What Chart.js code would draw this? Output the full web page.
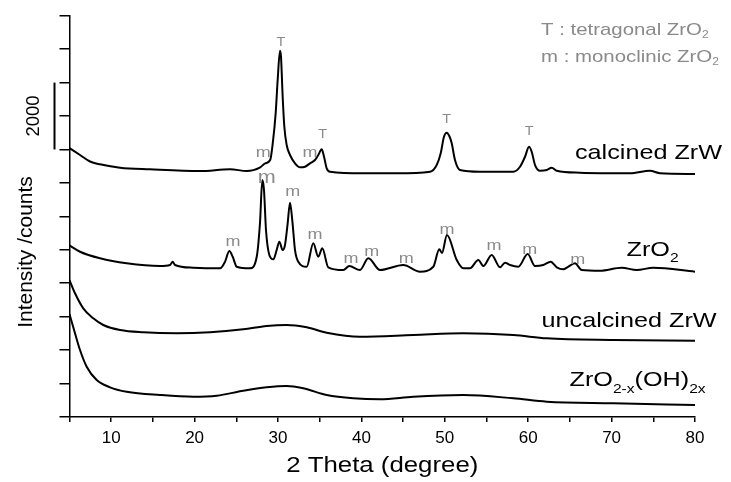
<!DOCTYPE html>
<html>
<head>
<meta charset="utf-8">
<script src="https://cdn.jsdelivr.net/npm/chart.js@4.4.1/dist/chart.umd.min.js"></script>
<style>
  html, body { margin: 0; padding: 0; background: #fff; }
  canvas { display: block; }
</style>
</head>
<body>
<canvas id="xrd" width="731" height="482"></canvas>
<script>
// XRD patterns, 2 theta (degree) vs intensity (counts, curves stacked with offsets)
const calcinedTheta = [5.0, 6.26, 7.46, 8.66, 11.06, 14.65, 20.64, 24.25, 26.25, 27.87, 28.47, 29.06, 29.37, 29.72, 29.96, 30.24, 30.36, 30.56, 30.76, 31.04, 31.44, 32.04, 32.64, 33.24, 33.84, 34.44, 34.83, 35.24, 35.52, 35.84, 36.24, 40.23, 44.23, 48.23, 49.03, 49.51, 49.9, 50.23, 50.54, 50.83, 51.22, 51.82, 54.22, 58.21, 59.02, 59.62, 60.1, 60.42, 60.82, 61.42, 62.22, 62.82, 63.42, 66.21, 72.21, 74.6, 75.81, 80.0];
const calcinedCounts = [8040, 7834, 7640, 7556, 7454, 7406, 7355, 7409, 7355, 7466, 7586, 7684, 8184, 9081, 10076, 10952, 10773, 9577, 8680, 8133, 7834, 7586, 7466, 7484, 7586, 7684, 7834, 8004, 7783, 7436, 7334, 7287, 7287, 7334, 7535, 7885, 8381, 8501, 8402, 8184, 7684, 7385, 7334, 7334, 7484, 7783, 8082, 7932, 7535, 7364, 7385, 7454, 7364, 7305, 7287, 7364, 7287, 7266];

const zro2Theta = [5.0, 6.26, 8.66, 11.86, 15.85, 17.05, 17.37, 17.65, 19.84, 23.05, 23.65, 24.16, 24.57, 25.05, 26.64, 27.45, 27.84, 28.12, 28.32, 28.56, 28.96, 29.44, 29.84, 30.16, 30.56, 30.84, 31.16, 31.44, 31.71, 32.04, 32.43, 33.44, 34.23, 34.83, 35.31, 36.03, 37.83, 38.55, 39.83, 40.83, 42.23, 45.02, 47.03, 48.62, 49.34, 49.66, 50.26, 51.43, 52.22, 53.02, 54.02, 54.62, 55.62, 56.62, 57.22, 57.82, 58.81, 59.94, 60.82, 61.81, 62.7, 63.42, 64.21, 64.69, 65.61, 66.41, 68.61, 71.21, 73.01, 75.0, 80.0];
const zro2Counts = [5130, 4942, 4745, 4596, 4515, 4545, 4643, 4545, 4464, 4446, 4643, 4963, 4793, 4494, 4446, 4793, 5801, 7086, 6787, 5591, 4844, 4715, 4993, 5241, 4993, 5143, 5792, 6408, 5890, 4993, 4643, 4494, 5194, 4793, 5044, 4476, 4395, 4515, 4395, 4745, 4395, 4545, 4345, 4494, 5014, 4904, 5442, 4694, 4446, 4446, 4694, 4515, 4844, 4476, 4614, 4545, 4494, 4874, 4515, 4545, 4643, 4476, 4416, 4476, 4596, 4395, 4374, 4464, 4395, 4464, 4344];

const uncalcinedTheta = [5.0, 5.66, 6.65, 7.85, 9.05, 11.06, 13.85, 17.85, 21.85, 25.84, 28.64, 31.04, 33.44, 35.84, 39.83, 46.22, 52.22, 58.21, 62.22, 70.2, 80.0];
const uncalcinedCounts = [4096, 3699, 3250, 2951, 2751, 2601, 2533, 2503, 2533, 2622, 2721, 2751, 2682, 2521, 2401, 2452, 2503, 2452, 2353, 2302, 2281];

const hydroxideTheta = [5.0, 5.66, 6.26, 7.06, 8.26, 9.86, 11.86, 15.85, 19.84, 22.65, 25.84, 28.64, 31.04, 33.03, 35.84, 39.03, 42.23, 46.22, 52.22, 58.21, 62.22, 70.2, 80.0];
const hydroxideCounts = [3080, 2503, 2003, 1504, 1106, 888, 756, 658, 607, 637, 786, 888, 927, 858, 658, 559, 529, 607, 658, 559, 457, 410, 359];

// peak markers (centre of the letter, in data units)
const tPeakTheta = [30.36, 35.36, 50.23, 60.1];
const tPeakCounts = [11212, 8477, 8910, 8566];
const mPeakTheta = [28.24, 33.84, 24.6, 31.76, 34.44, 38.75, 41.23, 45.38, 50.26, 55.9, 60.18, 65.95];
const mPeakCounts = [7909, 7909, 5247, 6736, 5442, 4730, 4934, 4730, 5600, 5113, 4999, 4694];
const mStrongTheta = [28.65];
const mStrongCounts = [7146];

// scale bar on the left: 2000 counts
const scaleBarFrom = 8000;
const scaleBarTo = 10000;

const FONT = '"Liberation Sans", Arial, Helvetica, sans-serif';
const SX = 1.2; // text in the original is a bit wide
const GREY = '#8a8a8a';

function toPoints(xs, ys) {
    return xs.map((x, i) => ({ x: x, y: ys[i] }));
}

// parts: [text, size, dy]
function wideText(ctx, parts, x, y, align, color) {
    ctx.save();
    let total = 0;
    const widths = parts.map(p => {
        ctx.font = p[1] + 'px ' + FONT;
        const w = ctx.measureText(p[0]).width;
        total += w;
        return w;
    });
    let cx = align === 'center' ? -total / 2 : (align === 'right' ? -total : 0);
    ctx.translate(x, y);
    ctx.scale(SX, 1);
    ctx.fillStyle = color || '#000';
    ctx.textAlign = 'left';
    ctx.textBaseline = 'alphabetic';
    parts.forEach((p, i) => {
        ctx.font = p[1] + 'px ' + FONT;
        ctx.fillText(p[0], cx, p[2] || 0);
        cx += widths[i];
    });
    ctx.restore();
}

function rotatedText(ctx, text, x, y, size) {
    ctx.save();
    ctx.translate(x, y);
    ctx.rotate(-Math.PI / 2);
    ctx.font = size + 'px ' + FONT;
    ctx.fillStyle = '#000';
    ctx.textAlign = 'center';
    ctx.textBaseline = 'alphabetic';
    ctx.fillText(text, 0, 0);
    ctx.restore();
}

const annotations = {
    id: 'annotations',
    afterDraw(chart) {
        const ctx = chart.ctx;
        const xs = chart.scales.x;
        const ys = chart.scales.y;

        // scale bar + 2000
        ctx.save();
        ctx.strokeStyle = '#000';
        ctx.lineWidth = 2;
        ctx.beginPath();
        ctx.moveTo(54.5, ys.getPixelForValue(scaleBarFrom));
        ctx.lineTo(54.5, ys.getPixelForValue(scaleBarTo));
        ctx.stroke();
        ctx.restore();
        rotatedText(ctx, '2000', 38.5, (ys.getPixelForValue(scaleBarFrom) + ys.getPixelForValue(scaleBarTo)) / 2, 18.5);

        // axis titles
        rotatedText(ctx, 'Intensity /counts', 31.5, 252, 21);
        wideText(ctx, [['2 Theta (degree)', 21.5]], (chart.chartArea.left + chart.chartArea.right) / 2, 471.5, 'center');

        // curve labels
        wideText(ctx, [['calcined ZrW', 21]], 575, 158.5, 'left');
        wideText(ctx, [['ZrO', 21], ['2', 13, 6]], 626.5, 255.5, 'left');
        wideText(ctx, [['uncalcined ZrW', 21]], 541.5, 326.5, 'left');
        wideText(ctx, [['ZrO', 21], ['2-x', 13, 7], ['(OH)', 21], ['2x', 13, 7]], 569.5, 386, 'left');

        // phase key
        wideText(ctx, [['T : tetragonal ZrO', 17], ['2', 10, 3]], 541, 35, 'left', GREY);
        wideText(ctx, [['m : monoclinic ZrO', 17], ['2', 10, 3]], 541, 62, 'left', GREY);

        // peak markers
        tPeakTheta.forEach((t, i) => {
            wideText(ctx, [['T', 12]], xs.getPixelForValue(t), ys.getPixelForValue(tPeakCounts[i]) + 4.3, 'center', GREY);
        });
        mPeakTheta.forEach((t, i) => {
            wideText(ctx, [['m', 15]], xs.getPixelForValue(t), ys.getPixelForValue(mPeakCounts[i]) + 4, 'center', GREY);
        });
        mStrongTheta.forEach((t, i) => {
            wideText(ctx, [['m', 18]], xs.getPixelForValue(t), ys.getPixelForValue(mStrongCounts[i]) + 4.8, 'center', GREY);
        });
    }
};

function curve(xs, ys) {
    return {
        data: toPoints(xs, ys),
        borderColor: '#000',
        borderWidth: 2,
        pointRadius: 0,
        cubicInterpolationMode: 'monotone',
        fill: false
    };
}

new Chart(document.getElementById('xrd'), {
    type: 'line',
    data: {
        datasets: [
            curve(calcinedTheta, calcinedCounts),
            curve(zro2Theta, zro2Counts),
            curve(uncalcinedTheta, uncalcinedCounts),
            curve(hydroxideTheta, hydroxideCounts)
        ]
    },
    options: {
        responsive: false,
        animation: false,
        layout: { padding: { left: 59.5, top: 15.7, right: 36, bottom: 0 } },
        plugins: {
            legend: { display: false },
            tooltip: { enabled: false }
        },
        scales: {
            x: {
                type: 'linear',
                min: 5,
                max: 80,
                afterFit: s => { s.height = 65; },
                border: { color: '#000', width: 1.5 },
                grid: { drawOnChartArea: false, color: '#000', lineWidth: 1.5, tickLength: 5 },
                ticks: {
                    stepSize: 5,
                    autoSkip: false,
                    maxRotation: 0,
                    padding: 6,
                    color: '#000',
                    font: { family: FONT, size: 17 },
                    callback: v => (v % 10 === 0 ? String(v) : '')
                }
            },
            y: {
                min: 0,
                max: 12000,
                afterFit: s => { s.width = 10; },
                border: { color: '#000', width: 1.5 },
                grid: { drawOnChartArea: false, color: '#000', lineWidth: 1.5, tickLength: 10 },
                ticks: { stepSize: 1000, display: false }
            }
        }
    },
    plugins: [annotations]
});
</script>
</body>
</html>
